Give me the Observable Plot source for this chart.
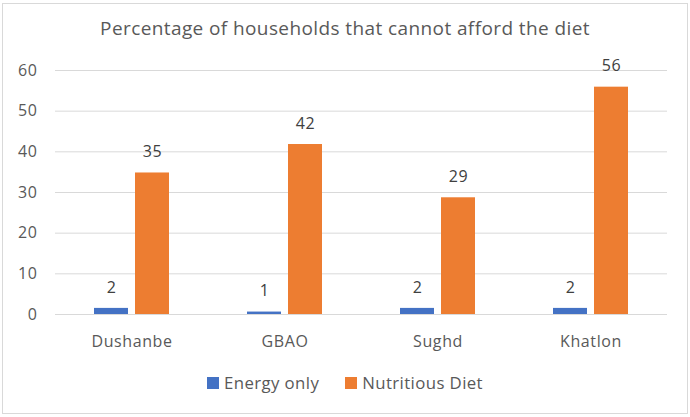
<!DOCTYPE html>
<html>
<head>
<meta charset="utf-8">
<script src="https://cdn.jsdelivr.net/npm/d3@7"></script>
<script src="https://cdn.jsdelivr.net/npm/@observablehq/plot@0.6"></script>
<style>
  html, body { margin: 0; padding: 0; background: #fff; }
  #wrap { position: relative; width: 690px; height: 417px; overflow: hidden; font-family: "Open Sans", sans-serif; }
  #frame { position: absolute; left: 2px; top: 3px; width: 684px; height: 409px; border: 1px solid #d9d9d9; pointer-events: none; }
  #title { position: absolute; left: 0; top: 15px; width: 690px; text-align: center; font-size: 19px; letter-spacing: 0.4px; color: #595959; }
  #chart { position: absolute; left: 0; top: 50px; }
  #legend { position: absolute; left: 0; top: 371px; width: 690px; display: flex; justify-content: center; gap: 26px; font-size: 16.8px; letter-spacing: 0.4px; color: #595959; }
  .item { display: flex; align-items: center; gap: 5px; }
  .sw { width: 12px; height: 12px; display: inline-block; }
  #chart svg text { letter-spacing: 0.6px; }
</style>
</head>
<body>
<div id="wrap">
  <div id="title"></div>
  <div id="chart"></div>
  <div id="legend"></div>
  <div id="frame"></div>
</div>
<script>
const titleText = "Percentage of households that cannot afford the diet";
const categories = ["Dushanbe", "GBAO", "Sughd", "Khatlon"];
const series = ["Energy only", "Nutritious Diet"];
const energyOnly = [1.5, 0.6, 1.5, 1.5];
const nutritiousDiet = [34.8, 41.8, 28.7, 55.9];
const yTicks = [0, 10, 20, 30, 40, 50, 60];
const colors = ["#4472C4", "#ED7D31"];

const data = categories.flatMap((c, i) => [
  {region: c, series: series[0], value: energyOnly[i]},
  {region: c, series: series[1], value: nutritiousDiet[i]}
]);
const fmt = d3.format(".0f");

document.getElementById("title").textContent = titleText;

const chart = Plot.plot({
  width: 690,
  height: 310,
  marginTop: 20,
  marginBottom: 46,
  marginLeft: 54,
  marginRight: 22,
  style: {fontFamily: "'Open Sans', sans-serif", fontSize: "16px", color: "#595959", background: "transparent"},
  fx: {domain: categories, padding: 0, label: null},
  x: {domain: series, paddingInner: 0.167, paddingOuter: 0.91, axis: null},
  y: {domain: [0, 60], label: null},
  color: {domain: series, range: colors},
  marks: [
    Plot.gridY(yTicks, {stroke: "#d9d9d9", strokeOpacity: 1, strokeWidth: 1}),
    Plot.barY(data, {fx: "region", x: "series", y: "value", fill: "series"}),
    Plot.text(data, {fx: "region", x: "series", y: "value", text: d => fmt(d.value), dy: -21, fill: "#404040", fontSize: 16}),
    Plot.axisY(yTicks, {tickSize: 0, tickPadding: 18, fontSize: 16, fill: "#595959", label: null}),
    Plot.axisFx({anchor: "bottom", tickSize: 0, tickPadding: 21, fontSize: 16, fill: "#595959", label: null})
  ]
});
document.getElementById("chart").appendChild(chart);

const legend = document.getElementById("legend");
series.forEach((s, i) => {
  const item = document.createElement("div");
  item.className = "item";
  const sw = document.createElement("span");
  sw.className = "sw";
  sw.style.background = colors[i];
  const t = document.createElement("span");
  t.textContent = s;
  item.appendChild(sw);
  item.appendChild(t);
  legend.appendChild(item);
});
</script>
</body>
</html>
